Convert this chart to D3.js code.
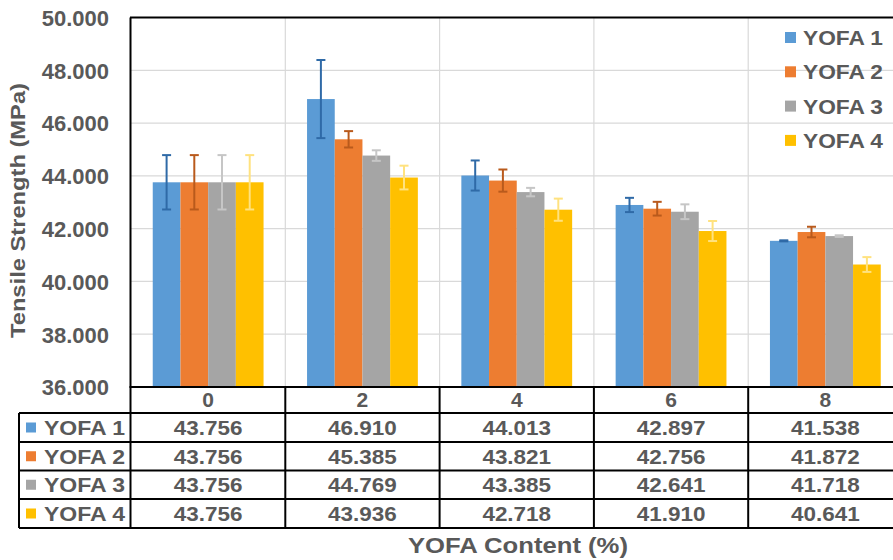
<!DOCTYPE html>
<html>
<head>
<meta charset="utf-8">
<script src="https://cdn.jsdelivr.net/npm/d3@7"></script>
<style>
  html, body { margin: 0; padding: 0; background: #fff; }
  svg { display: block; }
  text { font-family: "Liberation Sans", Arial, sans-serif; font-weight: bold; fill: #595959; }
</style>
</head>
<body>
<svg id="chart" width="893" height="560"></svg>
<script>
// YOFA content categories (%)
const categories = ["0", "2", "4", "6", "8"];
const seriesNames = ["YOFA 1", "YOFA 2", "YOFA 3", "YOFA 4"];
const seriesColors = ["#5b9bd5", "#ed7d31", "#a5a5a5", "#ffc000"];
const errorColors = ["#2f6aa7", "#b95a1c", "#c6c6c6", "#ffe27f"];

// Mean tensile strength (MPa) per series, one value per category
const yofa1 = [43.756, 46.910, 44.013, 42.897, 41.538];
const yofa2 = [43.756, 45.385, 43.821, 42.756, 41.872];
const yofa3 = [43.756, 44.769, 43.385, 42.641, 41.718];
const yofa4 = [43.756, 43.936, 42.718, 41.910, 40.641];

// Standard deviation (± error bar half-length, MPa)
const err1 = [1.03, 1.48, 0.57, 0.27, 0.02];
const err2 = [1.03, 0.31, 0.42, 0.26, 0.20];
const err3 = [1.03, 0.20, 0.16, 0.28, 0.03];
const err4 = [1.03, 0.45, 0.42, 0.38, 0.28];

const yTicks = [36, 38, 40, 42, 44, 46, 48, 50];
const yTitle = "Tensile Strength (MPa)";
const xTitle = "YOFA Content (%)";

const values = [yofa1, yofa2, yofa3, yofa4];
const errors = [err1, err2, err3, err4];

const svg = d3.select("#chart");

const plotLeft = 131, plotRight = 902.5, plotTop = 17.5, plotBottom = 387;

const x = d3.scaleBand().domain(categories).range([plotLeft, plotRight]).padding(0);
const xs = d3.scaleBand().domain(seriesNames).range([0, x.bandwidth()])
  .paddingInner(0).paddingOuter(0.785);
const y = d3.scaleLinear().domain([36, 50]).range([plotBottom, plotTop]);

// gridlines
const grid = svg.append("g");
grid.selectAll("line.h").data(yTicks.slice(1, -1)).join("line")
  .attr("x1", plotLeft).attr("x2", plotRight)
  .attr("y1", d => y(d)).attr("y2", d => y(d))
  .attr("stroke", "#d9d9d9").attr("stroke-width", 1.2);
grid.selectAll("line.v").data(categories.slice(1)).join("line")
  .attr("x1", d => x(d)).attr("x2", d => x(d))
  .attr("y1", plotTop).attr("y2", plotBottom)
  .attr("stroke", "#d9d9d9").attr("stroke-width", 1.2);

// bars
const bars = svg.append("g");
seriesNames.forEach((s, si) => {
  bars.selectAll(null).data(values[si]).join("rect")
    .attr("x", (d, i) => x(categories[i]) + xs(s))
    .attr("y", d => y(d))
    .attr("width", xs.bandwidth())
    .attr("height", d => y(36) - y(d))
    .attr("fill", seriesColors[si]);
});

// error bars
const eb = svg.append("g");
seriesNames.forEach((s, si) => {
  const g = eb.append("g").attr("stroke", errorColors[si]).attr("stroke-width", 2);
  values[si].forEach((v, i) => {
    const cx = x(categories[i]) + xs(s) + xs.bandwidth() / 2;
    const e = errors[si][i];
    const top = y(v + e), bot = y(v - e);
    g.append("line").attr("x1", cx).attr("x2", cx).attr("y1", top).attr("y2", bot);
    g.append("line").attr("x1", cx - 4.5).attr("x2", cx + 4.5).attr("y1", top).attr("y2", top);
    g.append("line").attr("x1", cx - 4.5).attr("x2", cx + 4.5).attr("y1", bot).attr("y2", bot);
  });
});

// plot frame (top and left edges)
svg.append("line").attr("x1", plotLeft - 1).attr("x2", plotRight).attr("y1", plotTop).attr("y2", plotTop)
  .attr("stroke", "#000").attr("stroke-width", 2);
svg.append("line").attr("x1", plotLeft - 0.5).attr("x2", plotLeft - 0.5).attr("y1", plotTop).attr("y2", plotBottom)
  .attr("stroke", "#000").attr("stroke-width", 2);

// y axis tick labels
const yAxis = d3.axisLeft(y).tickValues(yTicks).tickFormat(d3.format(".3f")).tickSize(0).tickPadding(0);
const ya = svg.append("g").attr("transform", "translate(109,0)").call(yAxis);
ya.select(".domain").remove();
ya.selectAll("text")
  .attr("x", 0).attr("dy", null).attr("dominant-baseline", null)
  .attr("transform", "translate(0,7.8)")
  .style("font-size", "22px").style("font-family", "'Liberation Sans', Arial, sans-serif")
  .style("font-weight", "bold").attr("fill", "#595959");

// y title
svg.append("text")
  .attr("transform", "translate(24.5," + ((83 + 338) / 2) + ") rotate(-90)")
  .attr("text-anchor", "middle")
  .attr("textLength", 255).attr("lengthAdjust", "spacingAndGlyphs")
  .style("font-size", "20px")
  .text(yTitle);

// legend inside plot
const legend = svg.append("g");
seriesNames.forEach((s, si) => {
  const cy = 37.5 + si * 34.3;
  legend.append("rect").attr("x", 785).attr("y", cy - 5.5).attr("width", 11).attr("height", 11)
    .attr("fill", seriesColors[si]);
  legend.append("text").attr("x", 803).attr("y", cy + 7.5)
    .attr("textLength", 80).attr("lengthAdjust", "spacingAndGlyphs")
    .style("font-size", "21px").text(s);
});

// data table
const rowTops = [387, 413, 442, 470.5, 499, 528];
const tableLeft = 19;
const table = svg.append("g");

// header row labels (categories)
table.selectAll("text.hdr").data(categories).join("text")
  .attr("x", d => x(d) + x.bandwidth() / 2).attr("y", 406.5)
  .attr("text-anchor", "middle").style("font-size", "21px")
  .text(d => d);

// series rows
const fmt = d3.format(".3f");
seriesNames.forEach((s, si) => {
  const rt = rowTops[si + 1], rb = rowTops[si + 2];
  const cy = (rt + rb) / 2;
  table.append("rect").attr("x", 26).attr("y", cy - 5).attr("width", 10).attr("height", 10)
    .attr("fill", seriesColors[si]);
  table.append("text").attr("x", 44).attr("y", cy + 7.5)
    .attr("textLength", 81).attr("lengthAdjust", "spacingAndGlyphs")
    .style("font-size", "21px").text(s);
  table.selectAll(null).data(values[si]).join("text")
    .attr("x", (d, i) => x(categories[i]) + x.bandwidth() / 2)
    .attr("y", cy + 7.5)
    .attr("text-anchor", "middle")
    .attr("transform", (d, i) => {
      const cx = x(categories[i]) + x.bandwidth() / 2;
      return "translate(" + cx + ",0) scale(1.07,1) translate(" + (-cx) + ",0)";
    })
    .style("font-size", "21px")
    .text(d => fmt(d));
});

// table grid lines
const tl = table.append("g").attr("stroke", "#000").attr("stroke-width", 2);
rowTops.forEach((ry, ri) => {
  tl.append("line").attr("x1", ri === 0 ? plotLeft - 1.5 : tableLeft).attr("x2", plotRight)
    .attr("y1", ry).attr("y2", ry);
});
tl.append("line").attr("x1", tableLeft).attr("x2", tableLeft).attr("y1", rowTops[1]).attr("y2", rowTops[5]);
[plotLeft - 0.5].concat(categories.slice(1).map(c => x(c))).forEach(vx => {
  tl.append("line").attr("x1", vx).attr("x2", vx).attr("y1", rowTops[0]).attr("y2", rowTops[5]);
});

// x title
svg.append("text").attr("x", 518).attr("y", 553)
  .attr("text-anchor", "middle")
  .attr("textLength", 220).attr("lengthAdjust", "spacingAndGlyphs")
  .style("font-size", "22px").text(xTitle);
</script>
</body>
</html>
